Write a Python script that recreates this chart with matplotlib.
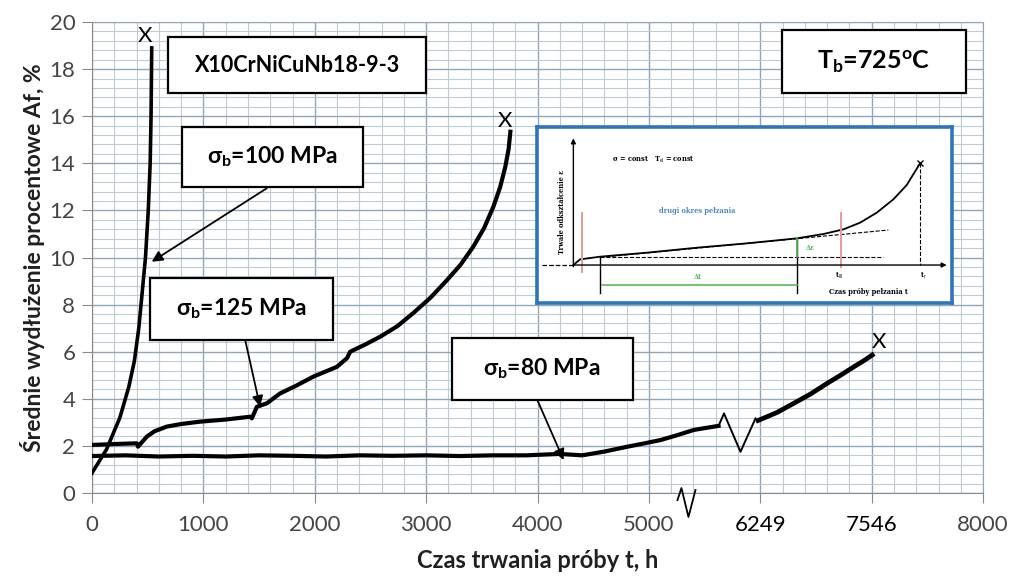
import matplotlib
matplotlib.use('Agg')
import matplotlib.pyplot as plt
from matplotlib.patches import Rectangle
from matplotlib.ticker import MultipleLocator

plt.rcParams['font.family'] = ['Lato', 'DejaVu Sans']
plt.rcParams['mathtext.fontset'] = 'custom'
plt.rcParams['mathtext.rm'] = 'Lato'
plt.rcParams['mathtext.bf'] = 'Lato:bold'
plt.rcParams['mathtext.it'] = 'Lato:italic'

# dane (os x w skali rysunku, 6000 -> 6249 h, 7000 -> 7546 h)
t_100 = [0, 130, 250, 330, 380, 420, 450, 480, 505, 522, 530, 536]
a_100 = [0.85, 1.85, 3.2, 4.5, 5.6, 7.0, 8.5, 10.0, 12.0, 14.0, 16.0, 18.9]

t_125 = [0, 200, 402, 413, 491, 560, 671, 800, 970, 1200, 1420, 1435, 1480, 1570,
         1689, 1830, 1986, 2199, 2290, 2318, 2450, 2588, 2740, 2884, 3040, 3187,
         3310, 3423, 3520, 3603, 3665, 3711, 3740, 3756]
a_125 = [2.04, 2.08, 2.11, 1.97, 2.39, 2.62, 2.82, 2.93, 3.03, 3.12, 3.24, 3.17,
         3.66, 3.81, 4.23, 4.55, 4.94, 5.36, 5.73, 6.0, 6.3, 6.64, 7.08, 7.64,
         8.3, 9.04, 9.7, 10.46, 11.25, 12.15, 13.0, 13.86, 14.6, 15.34]

t_80a = [0, 300, 600, 900, 1200, 1500, 1800, 2100, 2400, 2700, 3000, 3300, 3600,
         3900, 4200, 4400, 4600, 4800, 4950, 5105, 5250, 5404, 5584, 5625]
a_80a = [1.57, 1.6, 1.55, 1.58, 1.55, 1.6, 1.58, 1.55, 1.6, 1.58, 1.6, 1.57, 1.6,
         1.6, 1.66, 1.6, 1.76, 1.96, 2.1, 2.25, 2.45, 2.68, 2.82, 2.85]
t_80_break = [5625, 5674, 5822, 5957]
a_80_break = [2.85, 3.38, 1.75, 3.17]
t_80b = [5980, 6150, 6301, 6450, 6601, 6720, 6840, 6930, 7005]
a_80b = [3.08, 3.42, 3.81, 4.2, 4.66, 5.0, 5.36, 5.62, 5.86]

x_ticks = [0, 1000, 2000, 3000, 4000, 5000, 6000, 7000, 8000]
x_tick_labels = ['0', '1000', '2000', '3000', '4000', '5000', '6249', '7546', '8000']
y_ticks = [0, 2, 4, 6, 8, 10, 12, 14, 16, 18, 20]

# zakonczenie prob (X)
x_marks_t = [476, 3711, 7062]
x_marks_a = [19.4, 15.8, 6.41]

fig = plt.figure(figsize=(10.09, 5.79), dpi=100)
ax = fig.add_axes([0.0912, 0.1485, 0.8831, 0.8135])

ax.set_xlim(0, 8000)
ax.set_ylim(0, 20)
ax.xaxis.set_minor_locator(MultipleLocator(200))
ax.yaxis.set_minor_locator(MultipleLocator(0.4))
ax.grid(True, which='major', color='#8fa7b8', lw=1.0, zorder=0)
ax.grid(True, which='minor', color='#bccbd6', lw=0.8, zorder=0)
for s in ax.spines.values():
    s.set_color('#8fa7b8')
ax.spines['left'].set_color('#8a8a8a')
ax.spines['bottom'].set_color('#8a8a8a')
ax.set_xticks(x_ticks)
ax.set_xticklabels(x_tick_labels)
ax.set_yticks(y_ticks)
ax.tick_params(which='major', length=7, color='#8a8a8a', labelsize=16,
               labelcolor='#454545')
ax.tick_params(axis='x', pad=9)
ax.tick_params(axis='y', pad=5)
ax.tick_params(which='minor', length=0)
for lab in ax.get_xticklabels():
    if lab.get_text() in ('6249', '7546'):
        lab.set_color('black')

ax.set_xlabel('Czas trwania próby t, h', fontsize=17, fontweight='bold',
              color='#202020', labelpad=10)
ax.set_ylabel('Średnie wydłużenie procentowe Af, %', fontsize=16.5,
              fontweight='bold', color='#202020', labelpad=3)

ax.plot(t_100, a_100, color='black', lw=2.6, zorder=3)
ax.plot(t_125, a_125, color='black', lw=3.0, zorder=3)
ax.plot(t_80a, a_80a, color='black', lw=3.0, zorder=3)
ax.plot(t_80_break, a_80_break, color='black', lw=1.4, zorder=3)
ax.plot(t_80b, a_80b, color='black', lw=3.4, zorder=3)
for tx, ay in zip(x_marks_t, x_marks_a):
    ax.text(tx, ay, 'X', fontsize=16, ha='center', va='center', zorder=4)

# przerwanie osi x
ax.plot([5256, 5292, 5355, 5418], [-0.3, 0.21, -1.02, 0.13], color='black',
        lw=1.3, clip_on=False, zorder=5)

# ramki z opisami: (x0, y0, x1, y1, tekst, xt, yt)
boxes = [
    (683, 16.98, 2997, 19.36, 'X10CrNiCuNb18-9-3', 1846, 18.17),
    (809, 12.99, 2435, 15.54, r'σ$_\mathbf{b}$=100 MPa', 1617, 14.27),
    (521, 6.50, 2165, 9.13, r'σ$_\mathbf{b}$=125 MPa', 1339, 7.81),
    (3230, 3.95, 4861, 6.58, r'σ$_\mathbf{b}$=80 MPa', 4040, 5.27),
    (6199, 16.99, 7844, 19.66, r'T$_\mathbf{b}$=725$^\mathbf{o}$C', 7017, 18.3),
]
for x0, y0, x1, y1, txt, xt, yt in boxes:
    ax.add_patch(Rectangle((x0, y0), x1 - x0, y1 - y0, facecolor='white',
                           edgecolor='black', lw=1.6, zorder=5))
    if txt.startswith('T'):
        size = 18
    elif txt.startswith('X'):
        size = 15.5
    else:
        size = 16.5
    ax.text(xt, yt, txt, fontsize=size, fontweight='bold', ha='center',
            va='center', zorder=6)

arrows = [
    ((1569, 12.94), (536, 9.82)),
    ((1375, 6.50), (1509, 3.66)),
    ((3998, 3.95), (4234, 1.40)),
]
for start, tip in arrows:
    ax.annotate('', xy=tip, xytext=start,
                arrowprops=dict(arrowstyle='-|>', color='black', lw=1.3,
                                mutation_scale=16, shrinkA=0, shrinkB=0),
                zorder=6)

# wstawka - schemat krzywej pelzania
ins = fig.add_axes([536.7 / 1009, 1 - 302.7 / 579, 415 / 1009, 176 / 579])
ins.set_xlim(20, 1265)
ins.set_ylim(548, 20)
ins.set_xticks([])
ins.set_yticks([])
for s in ins.spines.values():
    s.set_color('#2e75c0')
    s.set_linewidth(2.6)

cx = [130, 150, 210, 350, 500, 650, 800, 880, 940, 990, 1040, 1090, 1130, 1170]
cy = [435, 418, 410, 398, 383, 370, 355, 342, 328, 308, 278, 238, 195, 130]
ins.plot(cx, cy, color='black', lw=1.3)
ins.annotate('', xy=(1250, 435), xytext=(130, 435),
             arrowprops=dict(arrowstyle='-|>', color='black', lw=1.0,
                             mutation_scale=7, shrinkA=0, shrinkB=0))
ins.annotate('', xy=(130, 55), xytext=(130, 440),
             arrowprops=dict(arrowstyle='-|>', color='black', lw=1.0,
                             mutation_scale=7, shrinkA=0, shrinkB=0))
ins.plot([35, 130], [435, 435], color='black', lw=0.9, ls='--')
ins.plot([210, 1060], [410, 410], color='black', lw=0.8, ls='--')
ins.plot([210, 1075], [412, 330], color='black', lw=0.8, ls='--')
ins.plot([1170, 1170], [130, 435], color='black', lw=0.8, ls='--')
ins.plot([155, 155], [280, 455], color='#e89a9a', lw=1.4)
ins.plot([932, 932], [280, 440], color='#e89a9a', lw=1.4)
ins.plot([210, 210], [410, 520], color='black', lw=1.0)
ins.plot([800, 800], [355, 520], color='black', lw=1.0)
ins.plot([215, 800], [495, 495], color='#5cb85c', lw=1.2)
ins.plot([800, 800], [355, 410], color='#5cb85c', lw=1.2)
ins.plot([1170], [130], marker='x', color='black', ms=5, mew=1.0)

sfont = dict(family=['DejaVu Serif'], fontweight='bold', fontsize=4.8)
ins.text(370, 120, r'σ = const   T$_{\rm el}$ = const', ha='center',
         va='center', **sfont)
ins.text(500, 272, 'drugi okres pełzania', ha='center', va='center',
         color='#4a86c8', **sfont)
ins.text(840, 385, 'Δε', ha='center', va='center', color='#5cb85c', **sfont)
ins.text(505, 470, 'Δt', ha='center', va='center', color='#5cb85c', **sfont)
ins.text(928, 468, r't$_{\rm III}$', ha='center', va='center', **sfont)
ins.text(1180, 468, r't$_{\rm r}$', ha='center', va='center', **sfont)
ins.text(1015, 515, 'Czas próby pełzania t', ha='center', va='center', **sfont)
ins.text(95, 275, 'Trwałe odkształcenie ε', ha='center', va='center',
         rotation=90, **sfont)

fig.savefig('out.png', dpi=100)
